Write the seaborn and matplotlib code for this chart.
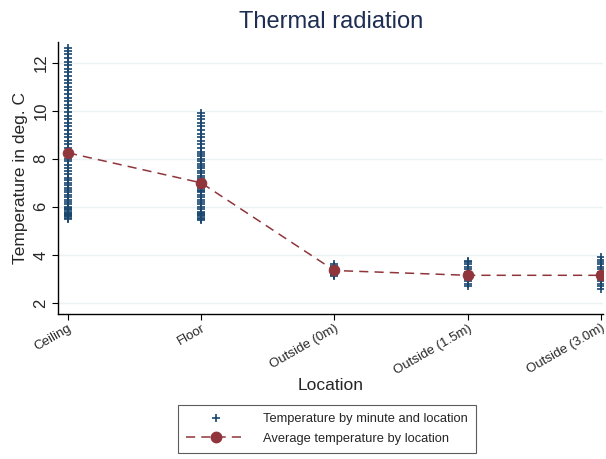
import numpy as np
import pandas as pd
import seaborn as sns
import matplotlib.pyplot as plt
from matplotlib.lines import Line2D

locations = ['Ceiling', 'Floor', 'Outside (0m)', 'Outside (1.5m)', 'Outside (3.0m)']

ceiling = [5.5, 5.55, 5.6, 5.62, 5.65, 5.7, 5.72, 5.75, 5.8, 5.85, 5.9, 5.95, 6.0, 6.1, 6.2,
           6.3, 6.4, 6.5, 6.6, 6.7, 6.8, 6.9, 7.0, 7.1, 7.2, 7.35, 7.5, 7.6, 7.75, 7.9, 8.0,
           8.15, 8.3, 8.45, 8.6, 8.75, 8.9, 9.05, 9.2, 9.35, 9.5, 9.65, 9.8, 9.95, 10.1, 10.25,
           10.4, 10.55, 10.7, 10.85, 11.0, 11.15, 11.3, 11.45, 11.6, 11.75, 11.9, 12.05, 12.2,
           12.35, 12.5, 12.6]
floor = [5.45, 5.5, 5.55, 5.6, 5.65, 5.7, 5.75, 5.8, 5.9, 6.0, 6.1, 6.2, 6.3, 6.4, 6.5, 6.6,
         6.65, 6.7, 6.8, 6.9, 7.0, 7.1, 7.2, 7.3, 7.4, 7.5, 7.6, 7.7, 7.8, 7.9, 8.0, 8.1, 8.2,
         8.3, 8.45, 8.6, 8.75, 8.9, 9.05, 9.2, 9.35, 9.5, 9.65, 9.8, 9.9]
outside_0 = [3.1, 3.15, 3.2, 3.25, 3.3, 3.35, 3.4, 3.45, 3.5, 3.55, 3.6]
outside_15 = [2.7, 2.8, 2.9, 3.0, 3.05, 3.1, 3.15, 3.2, 3.25, 3.3, 3.4, 3.5, 3.6, 3.7, 3.75]
outside_30 = [2.6, 2.7, 2.8, 2.9, 3.0, 3.05, 3.1, 3.15, 3.2, 3.3, 3.4, 3.5, 3.6, 3.7, 3.8, 3.9]

avg_temp = [8.25, 7.0, 3.35, 3.15, 3.15]

blue = '#1a476f'
red = '#90353b'

readings = [ceiling, floor, outside_0, outside_15, outside_30]
df = pd.DataFrame({
    'location': [loc for loc, vals in zip(locations, readings) for v in vals],
    'temp': [v for vals in readings for v in vals],
})
means = pd.DataFrame({'location': locations, 'temp': avg_temp})

sns.set_style('white')
plt.rcParams['font.family'] = ['Liberation Sans', 'DejaVu Sans']

fig = plt.figure(figsize=(6.06, 4.59), dpi=100)
ax = fig.add_axes([0.0957, 0.316, 0.9, 0.593])

sns.stripplot(data=df, x='location', y='temp', order=locations, jitter=False,
              marker='+', s=5.5, linewidth=1.2, color=blue, ax=ax)
sns.pointplot(data=means, x='location', y='temp', order=locations, color=red,
              markers='o', linestyles=(0, (6, 4)), errorbar=None, markersize=7.5,
              linewidth=1.1, ax=ax)
# keep the averages on top of the minute readings
for ln in ax.lines:
    ln.set_zorder(5)

ax.set_xlim(-0.075, 4.02)
ax.set_ylim(1.54, 12.875)
ax.set_yticks([2, 4, 6, 8, 10, 12])
ax.yaxis.grid(True, color='#eaf2f3', linewidth=1)
ax.set_axisbelow(True)
sns.despine(ax=ax, top=True, right=True)
for s in ['left', 'bottom']:
    ax.spines[s].set_color('black')
    ax.spines[s].set_linewidth(1)

ax.tick_params(axis='both', which='both', length=4, width=0.8, color='black', direction='out',
               left=True, bottom=True)
ax.tick_params(axis='y', labelsize=12, pad=3)
plt.setp(ax.get_yticklabels(), rotation=90, va='center')
ax.tick_params(axis='x', labelsize=9.5, pad=2)
plt.setp(ax.get_xticklabels(), rotation=30, ha='right', rotation_mode='anchor')

ax.set_xlabel('Location', fontsize=12.5, labelpad=1)
ax.set_ylabel('Temperature in deg. C', fontsize=12.5, labelpad=4)
ax.set_title('Thermal radiation', fontsize=17, color='#1e2d53', pad=10)

handles = [
    Line2D([], [], linestyle='none', marker='+', color=blue, markersize=5.5, markeredgewidth=1.2),
    Line2D([], [], linestyle=(0, (6, 4)), marker='o', color=red, markersize=7.5, linewidth=1.1),
]
leg = fig.legend(handles, ['Temperature by minute and location', 'Average temperature by location'],
                 loc='center', bbox_to_anchor=(327 / 606, 1 - 429 / 459), fontsize=9.3,
                 frameon=True, fancybox=False, edgecolor='#333333', handlelength=4.6,
                 handletextpad=1.4, borderpad=0.6, labelspacing=0.6)
leg.get_frame().set_linewidth(0.8)

fig.savefig('out.png', dpi=100)
